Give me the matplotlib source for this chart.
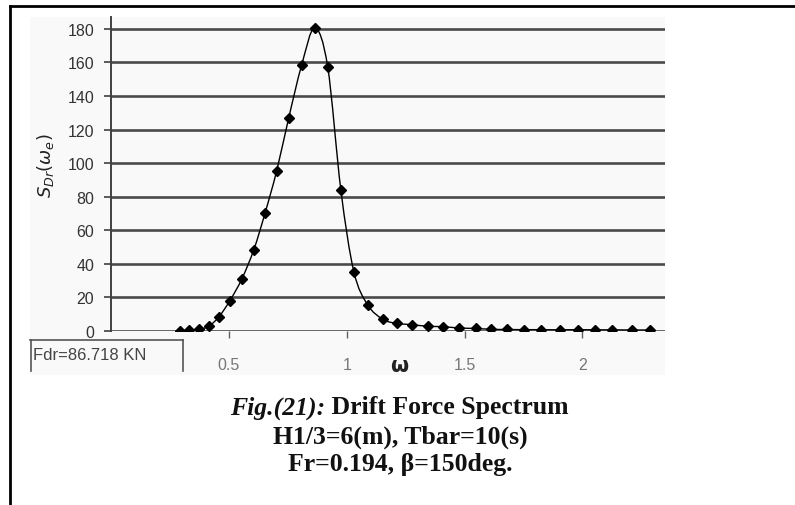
import numpy as np
import matplotlib
matplotlib.use("Agg")
import matplotlib.pyplot as plt
from matplotlib.path import Path
from matplotlib.patches import PathPatch, Rectangle
from matplotlib.lines import Line2D
import matplotlib.transforms as mtransforms

# Encounter frequency (rad/s) and drift force spectral density
omega = [0.292, 0.331, 0.373, 0.415, 0.458, 0.504, 0.555, 0.606, 0.653, 0.703,
         0.754, 0.809, 0.864, 0.919, 0.975, 1.030, 1.089, 1.153, 1.212, 1.275,
         1.343, 1.407, 1.475, 1.547, 1.614, 1.678, 1.754, 1.826, 1.903, 1.979,
         2.051, 2.127, 2.208, 2.288]
s_drift = [0.2, 0.4, 1.0, 2.8, 8.5, 18.0, 31.0, 48.5, 70.0, 95.5,
           127.0, 158.5, 180.5, 157.5, 84.0, 35.4, 15.5, 7.0, 4.5, 3.8,
           2.8, 2.6, 1.8, 1.5, 1.0, 0.9, 0.8, 0.8, 0.7, 0.8,
           0.7, 0.7, 0.6, 0.6]

y_ticks = [0, 20, 40, 60, 80, 100, 120, 140, 160, 180]
x_ticks = [0.5, 1.0, 1.5, 2.0]
x_tick_labels = ["0.5", "1", "1.5", "2"]

W, H = 795, 506
fig = plt.figure(figsize=(W / 100, H / 100), dpi=100)
fig.patch.set_facecolor("white")


def fx(px):
    return px / W


def fy(py):
    return 1 - py / H


# light panel behind the chart
fig.patches.append(Rectangle((fx(30), fy(376)), fx(665) - fx(30), fy(18) - fy(376),
                             transform=fig.transFigure, facecolor="#f9f9f9",
                             edgecolor="none", zorder=-5))

ax = fig.add_axes([fx(111), fy(332), fx(665) - fx(111), fy(18) - fy(332)])
ax.set_zorder(2)
ax.set_facecolor("none")
ax.set_xlim(0, 2.35)
ax.set_ylim(0, 187)

for v in y_ticks:
    ax.axhline(v, color="#4a4a4a", lw=1.9, zorder=1)

# smooth curve through the points (Catmull-Rom as cubic Bezier segments)
x = np.asarray(omega)
y = np.asarray(s_drift)
verts = [(x[0], y[0])]
codes = [Path.MOVETO]
n = len(x)
for i in range(n - 1):
    x0, y0 = (x[i - 1], y[i - 1]) if i > 0 else (x[i], y[i])
    x3, y3 = (x[i + 2], y[i + 2]) if i + 2 < n else (x[i + 1], y[i + 1])
    c1 = (x[i] + (x[i + 1] - x0) / 6, y[i] + (y[i + 1] - y0) / 6)
    c2 = (x[i + 1] - (x3 - x[i]) / 6, y[i + 1] - (y3 - y[i]) / 6)
    verts += [c1, c2, (x[i + 1], y[i + 1])]
    codes += [Path.CURVE4] * 3
ax.add_patch(PathPatch(Path(verts, codes), facecolor="none", edgecolor="black",
                       lw=1.0, zorder=3))
ax.plot(omega, s_drift, linestyle="none", marker="D", markersize=5.5,
        color="black", zorder=4)

for s in ["top", "right", "bottom"]:
    ax.spines[s].set_visible(False)
ax.spines["left"].set_color("#404040")
ax.spines["left"].set_linewidth(1.4)

ax.set_yticks(y_ticks)
ax.set_yticklabels([str(v) for v in y_ticks])
ax.set_xticks(x_ticks)
ax.set_xticklabels(x_tick_labels)
ax.tick_params(axis="y", length=5, width=1.2, color="#404040", pad=7,
               labelsize=11.5, labelcolor="#333333")
ax.tick_params(axis="x", length=5, width=1.0, color="#606060", pad=14,
               labelsize=11.5, labelcolor="#777777")
for lab in ax.get_xticklabels() + ax.get_yticklabels():
    lab.set_fontfamily("Liberation Sans")

ax.text(-0.118, 0.53, r"$S_{Dr}(\omega_e)$", transform=ax.transAxes, rotation=90,
        ha="center", va="center", fontsize=13, color="#222222")
blend = mtransforms.blended_transform_factory(ax.transData, ax.transAxes)
ax.text(1.225, -0.108, r"$\mathbf{\omega}$", transform=blend, ha="center",
        va="center", fontsize=15, color="#222222")

# force annotation box
fig.text(fx(33), fy(356), "Fdr=86.718 KN", ha="left", va="center",
         fontsize=12, color="#444444", family="Liberation Sans", zorder=3)
for seg in [((30, 183), (341, 341)), ((31, 31), (341, 372)), ((183, 183), (341, 372))]:
    fig.add_artist(Line2D([fx(seg[0][0]), fx(seg[0][1])],
                          [fy(seg[1][0]), fy(seg[1][1])],
                          transform=fig.transFigure, color="#555555", lw=1.2,
                          zorder=3))

# outer frame
fig.add_artist(Line2D([fx(10), fx(795)], [fy(7), fy(7)], transform=fig.transFigure,
                      color="black", lw=2, zorder=3))
fig.add_artist(Line2D([fx(10), fx(10)], [fy(7), fy(506)], transform=fig.transFigure,
                      color="black", lw=2, zorder=3))

# caption
cap_size = 18.5
fig.canvas.draw()
r = fig.canvas.get_renderer()
t1 = fig.text(0, fy(408), "Fig.(21):", fontsize=cap_size, family="Liberation Serif",
              style="italic", weight="bold", ha="left", va="center", color="#111111")
t2 = fig.text(0, fy(408), " Drift Force Spectrum", fontsize=cap_size,
              family="Liberation Serif", weight="bold", ha="left", va="center",
              color="#111111")
w1 = t1.get_window_extent(r).width
w2 = t2.get_window_extent(r).width
x_start = 399 - (w1 + w2) / 2
t1.set_x(fx(x_start))
t2.set_x(fx(x_start + w1))
fig.text(fx(400), fy(437), "H1/3=6(m), Tbar=10(s)", fontsize=cap_size,
         family="Liberation Serif", weight="bold", ha="center", va="center",
         color="#111111")
fig.text(fx(400), fy(465), "Fr=0.194, \u03b2=150deg.", fontsize=cap_size,
         family="Liberation Serif", weight="bold", ha="center", va="center",
         color="#111111")

fig.savefig("out.png", dpi=100)
